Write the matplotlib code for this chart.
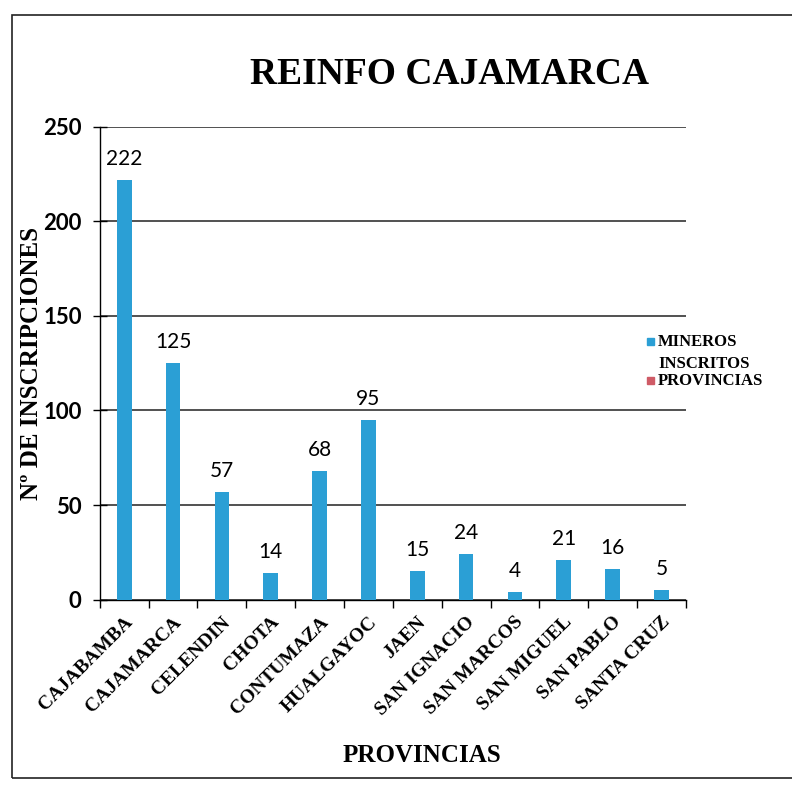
import matplotlib
matplotlib.use('Agg')
import matplotlib.pyplot as plt
from matplotlib.patches import Rectangle
import numpy as np

provincias = ['CAJABAMBA', 'CAJAMARCA', 'CELENDIN', 'CHOTA', 'CONTUMAZA',
              'HUALGAYOC', 'JAEN', 'SAN IGNACIO', 'SAN MARCOS', 'SAN MIGUEL',
              'SAN PABLO', 'SANTA CRUZ']
mineros = [222, 125, 57, 14, 68, 95, 15, 24, 4, 21, 16, 5]
yticks = [0, 50, 100, 150, 200, 250]

BLUE = '#2b9fd5'
RED = '#cf5b66'


def reinfo_chart():
  fig = plt.figure(figsize=(7.92, 7.87), dpi=100)
  ax = fig.add_axes([0.126, 0.238, 0.74, 0.601])

  x = np.arange(len(provincias))
  ax.bar(x, mineros, width=0.3, color=BLUE, zorder=3)
  for xi, v in zip(x, mineros):
    ax.annotate(str(v), (xi, v), xytext=(0, 8), textcoords='offset points',
                ha='center', va='bottom', fontsize=15, family='Lato')

  ax.set_xlim(-0.5, len(provincias) - 0.5)
  ax.set_ylim(0, 250)
  ax.set_yticks(yticks)
  ax.yaxis.grid(True, color='#222222', linewidth=1.1, zorder=0)
  ax.set_axisbelow(True)
  for s in ['top', 'right']:
    ax.spines[s].set_visible(False)
  ax.spines['left'].set_linewidth(1.0)
  ax.spines['bottom'].set_linewidth(1.0)

  ax.tick_params(axis='y', direction='inout', length=10, width=1, pad=8)
  for lab in ax.get_yticklabels():
    lab.set_fontfamily('Lato')
    lab.set_fontweight('bold')
    lab.set_fontsize(16)

  ax.set_xticks(x)
  ax.set_xticklabels(provincias, rotation=45, ha='right', rotation_mode='anchor',
                     family='Liberation Serif', fontweight='bold', fontsize=14)
  ax.tick_params(axis='x', which='major', length=0, pad=10)
  ax.set_xticks(np.arange(-0.5, len(provincias)), minor=True)
  ax.tick_params(axis='x', which='minor', direction='out', length=6, width=1)

  ax.set_ylabel('Nº DE INSCRIPCIONES', family='Liberation Serif',
                fontweight='bold', fontsize=18, labelpad=2)
  ax.yaxis.set_label_coords(-0.097, 0.5)
  fig.text(0.533, 0.04, 'PROVINCIAS', ha='center', va='center',
           family='Liberation Serif', fontweight='bold', fontsize=18)
  fig.text(0.568, 0.905, 'REINFO CAJAMARCA', ha='center', va='center',
           family='Liberation Serif', fontweight='bold', fontsize=27)

  # legend
  fig.patches.append(Rectangle((0.817, 0.562), 0.009, 0.009, color=BLUE,
                               transform=fig.transFigure))
  fig.patches.append(Rectangle((0.817, 0.512), 0.009, 0.009, color=RED,
                               transform=fig.transFigure))
  fig.text(0.831, 0.566, 'MINEROS', va='center', family='Liberation Serif',
           fontweight='bold', fontsize=12)
  fig.text(0.831, 0.538, 'INSCRITOS', va='center', family='Liberation Serif',
           fontweight='bold', fontsize=12)
  fig.text(0.831, 0.516, 'PROVINCIAS', va='center', family='Liberation Serif',
           fontweight='bold', fontsize=12)

  # outer chart border
  fig.patches.append(Rectangle((0.015, 0.011), 1.0, 0.97, fill=False,
                               edgecolor='#222222', linewidth=1.2,
                               transform=fig.transFigure))

  plt.savefig('out.png', dpi=100)


if __name__ == '__main__':
  reinfo_chart()
